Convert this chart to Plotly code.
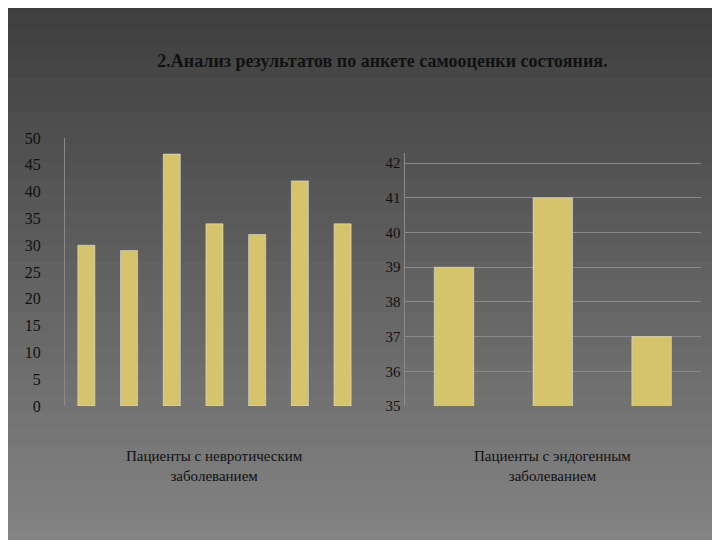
import plotly.graph_objects as go

left_vals = [30, 29, 47, 34, 32, 42, 34]
left_cats = ["a1", "a2", "a3", "a4", "a5", "a6", "a7"]
right_vals = [39, 41, 37]
right_cats = ["b1", "b2", "b3"]
left_label = "Пациенты с невротическим<br>заболеванием"
right_label = "Пациенты с эндогенным<br>заболеванием"
title = "<b>2.Анализ результатов по анкете самооценки состояния.</b>"

bar_color = "#d6c46c"
font = dict(family="Liberation Serif", color="#111111")

fig = go.Figure()
fig.add_trace(go.Bar(x=left_cats, y=left_vals, marker_color=bar_color, width=0.4,
                     xaxis="x", yaxis="y"))
fig.add_trace(go.Bar(x=right_cats, y=right_vals, marker_color=bar_color, width=0.4,
                     xaxis="x2", yaxis="y2"))

shapes = []
n = 40
top, bot = 1.6, -0.9
step = (top - bot) / n
for i in range(n):
    t = i / (n - 1)
    v = int(60 + 85 * t)
    shapes.append(dict(type="rect", xref="paper", yref="paper", layer="below",
                       x0=-0.2, x1=1.1, y0=top - (i + 1) * step - 0.01, y1=top - i * step,
                       fillcolor=f"rgb({v},{v},{v})", line_width=0))

fig.update_layout(
    width=720, height=540, showlegend=False,
    margin=dict(l=57, r=27, t=130, b=142, autoexpand=False),
    paper_bgcolor="#6e6e6e", plot_bgcolor="rgba(0,0,0,0)",
    font=font, shapes=shapes, bargap=0.5,
    title=dict(text=title, x=0.52, y=0.915, xanchor="center",
               font=dict(family="Liberation Serif", size=18, color="#111111")),
    xaxis=dict(domain=[0, 0.47], showticklabels=False, showline=False, showgrid=False),
    yaxis=dict(range=[0, 50], dtick=5, showgrid=False, showline=True, linecolor="#888888",
               zeroline=False, tickfont=dict(size=16, color="#111111"), ticks="",
               ticklabelstandoff=20),
    xaxis2=dict(domain=[0.534, 1], showticklabels=False, showgrid=False, anchor="y2"),
    yaxis2=dict(range=[35, 42.3], dtick=1, showgrid=True, gridcolor="#8a8a8a",
                domain=[0, 0.945], anchor="x2", showline=True, linecolor="#8a8a8a",
                zeroline=False, tickfont=dict(size=15, color="#111111")),
    annotations=[
        dict(text=left_label, x=0.235, y=-0.15, xref="paper", yref="paper", showarrow=False,
             xanchor="center", yanchor="top", font=dict(size=15, color="#111111")),
        dict(text=right_label, x=0.767, y=-0.15, xref="paper", yref="paper", showarrow=False,
             xanchor="center", yanchor="top", font=dict(size=15, color="#111111")),
    ],
)
fig.write_html("out.html")
